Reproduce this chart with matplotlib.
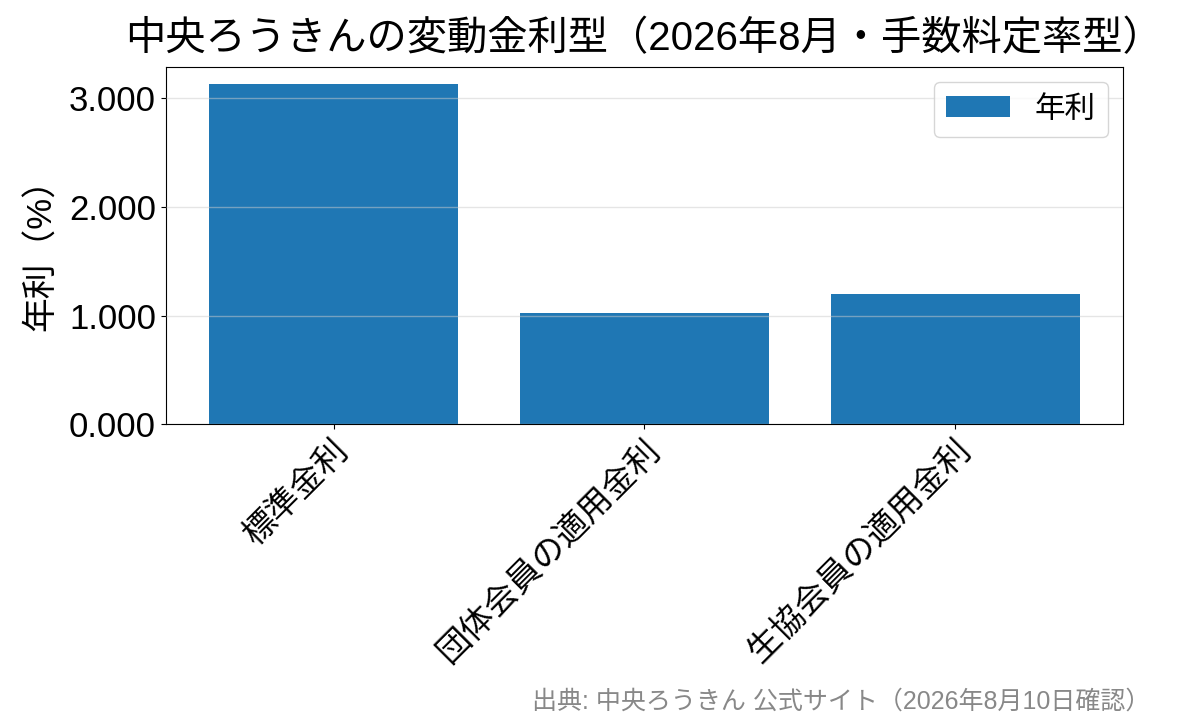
import matplotlib
matplotlib.use("Agg")
import matplotlib.pyplot as plt
import matplotlib.ticker as mticker

plt.rcParams['font.family'] = ['Liberation Sans', 'Noto Sans CJK JP', 'DejaVu Sans']

categories = ["標準金利", "団体会員の適用金利", "生協会員の適用金利"]
rates = [3.125, 1.025, 1.200]
series_name = "年利"
title = "中央ろうきんの変動金利型（2026年8月・手数料定率型）"
ylabel = "年利（%）"
source = "出典: 中央ろうきん 公式サイト（2026年8月10日確認）"

fig = plt.figure(figsize=(11.84, 7.25), dpi=100)
ax = fig.add_axes([0.140, 0.4145, 0.8085, 0.4931])
ax.bar(range(len(categories)), rates, width=0.8, color="#1f77b4", label=series_name, zorder=1)
ax.set_ylim(0, max(rates) * 1.05)
ax.set_yticks([0, 1, 2, 3])
ax.yaxis.set_major_formatter(mticker.FormatStrFormatter('%.3f'))
ax.grid(axis='y', color='#cccccc', alpha=0.5, linewidth=1, zorder=2)
ax.set_axisbelow(False)
ax.set_xticks(range(len(categories)))
ax.set_xticklabels(categories, rotation=45, ha='right', rotation_mode='anchor', fontsize=24)
ax.tick_params(axis='y', labelsize=25)
ax.set_ylabel(ylabel, fontsize=25, labelpad=8)
ax.set_title(title, fontsize=29, pad=12)
ax.legend(loc='upper right', fontsize=22, handlelength=2.1)
fig.text(0.972, 0.016, source, ha='right', va='bottom', fontsize=18, color='#888888')
fig.savefig("out.png", dpi=100)
